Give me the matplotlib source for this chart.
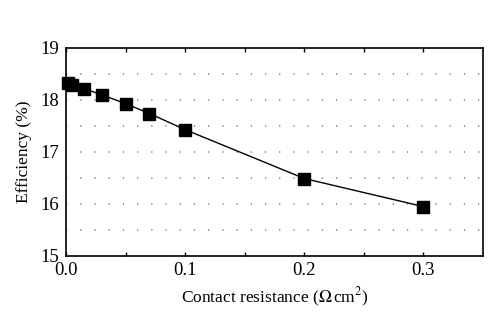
import matplotlib
matplotlib.use("Agg")
import matplotlib.pyplot as plt
import numpy as np

# Contact resistance (Ohm cm^2) and resulting cell efficiency (%)
resistance = [0.002, 0.005, 0.015, 0.03, 0.05, 0.07, 0.1, 0.2, 0.3]
efficiency = [18.32, 18.28, 18.22, 18.10, 17.93, 17.74, 17.43, 16.49, 15.95]

x_ticks = [0.0, 0.1, 0.2, 0.3]
y_ticks = [15, 16, 17, 18, 19]
grid_levels = [15.5, 16.0, 16.5, 17.0, 17.5, 18.0, 18.5]

plt.rcParams['font.family'] = ['Liberation Serif', 'DejaVu Serif']
plt.rcParams['mathtext.fontset'] = 'stix'

fig = plt.figure(figsize=(5.0, 3.23), dpi=100)
ax = fig.add_axes([66 / 500, 1 - 256 / 323, (483 - 66) / 500, (256 - 48) / 323])

for lv in grid_levels:
    ax.axhline(lv, color='#777777', lw=1.1, ls=(0, (0.8, 8.5)), zorder=0)

ax.plot(resistance, efficiency, color='black', lw=1.0, marker='s',
        markersize=8.8, markerfacecolor='black', markeredgecolor='black',
        zorder=3, clip_on=False)

ax.set_xlim(0, 0.35)
ax.set_ylim(15, 19)
ax.set_xticks(x_ticks)
ax.set_xticklabels(['0.0', '0.1', '0.2', '0.3'])
ax.set_xticks(np.arange(0.05, 0.35, 0.1), minor=True)
ax.set_yticks(y_ticks)

ax.tick_params(axis='x', which='both', direction='in', length=3, width=1,
               top=True, labelsize=13.5, pad=4)
ax.tick_params(axis='y', which='both', length=0, labelsize=13.5, pad=5)

for sp in ax.spines.values():
    sp.set_linewidth(1.2)

ax.set_xlabel(r'Contact resistance ($\Omega\,$cm$^2$)', fontsize=12.5, labelpad=5)
ax.set_ylabel('Efficiency (%)', fontsize=12.5, labelpad=6)

fig.savefig('out.png', dpi=100)
